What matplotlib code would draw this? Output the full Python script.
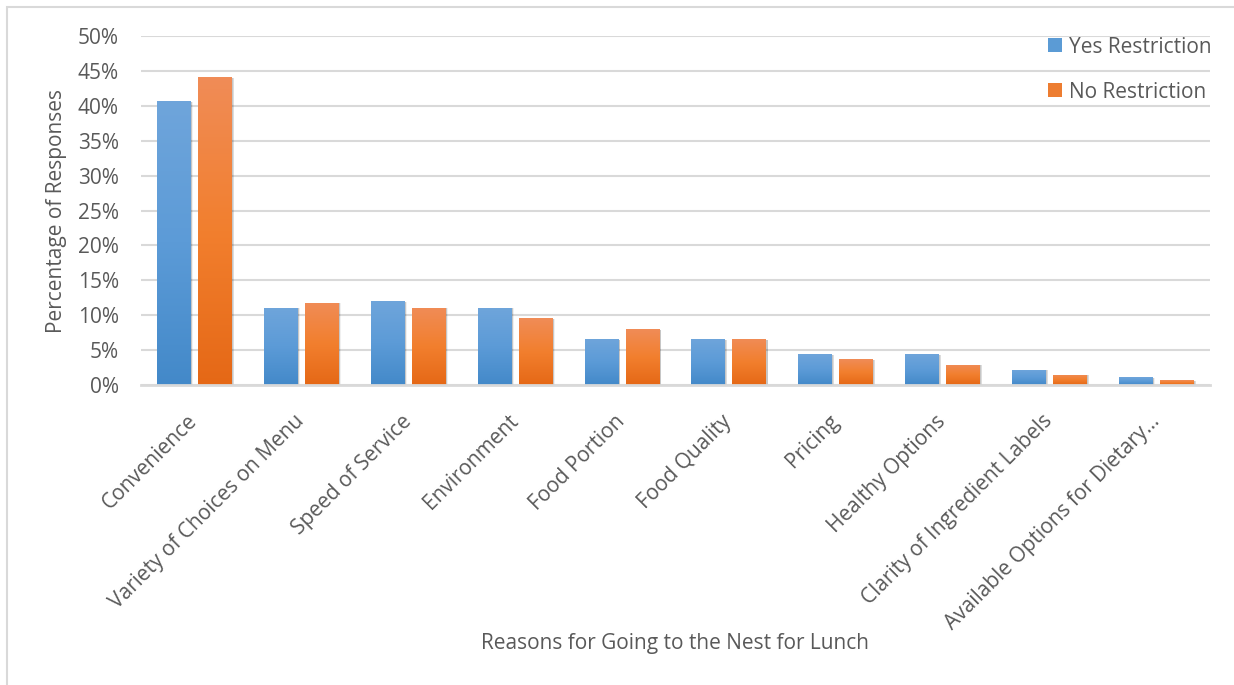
import numpy as np
import matplotlib
matplotlib.use("Agg")
import matplotlib.pyplot as plt
from matplotlib.colors import LinearSegmentedColormap
from matplotlib.patches import Rectangle
from matplotlib.ticker import FuncFormatter

# Data (percent of responses)
categories = [
    "Convenience",
    "Variety of Choices on Menu",
    "Speed of Service",
    "Environment",
    "Food Portion",
    "Food Quality",
    "Pricing",
    "Healthy Options",
    "Clarity of Ingredient Labels",
    "Available Options for Dietary…",
]
yes_restriction = [40.7, 11.1, 12.0, 11.1, 6.6, 6.6, 4.4, 4.4, 2.2, 1.1]
no_restriction = [44.1, 11.8, 11.1, 9.6, 8.0, 6.6, 3.7, 2.9, 1.5, 0.7]
series_names = ["Yes Restriction", "No Restriction"]

text_color = "#595959"
grid_color = "#d9d9d9"
blue_cmap = LinearSegmentedColormap.from_list("blue", ["#4389c9", "#5c9bd7", "#6fa5db"])
orange_cmap = LinearSegmentedColormap.from_list("orange", ["#e56816", "#f27f2e", "#f08c57"])
fs = 15

plt.rcParams["font.family"] = ["Open Sans", "DejaVu Sans"]

fig = plt.figure(figsize=(12.34, 6.85), dpi=100)
ax = fig.add_axes([0.1143, 0.438, 0.8662, 0.5094])

# light outer border like the exported chart area
fig.patches.append(Rectangle((7 / 1234, -0.05), 1.2, 1.05 - 7 / 685,
                             transform=fig.transFigure, fill=False,
                             edgecolor="#d9d9d9", linewidth=1.5))

x = np.arange(len(categories))
width = 0.318
offset = 0.192

grad = np.linspace(0, 1, 256).reshape(-1, 1)


def gradient_bars(positions, values, cmap):
    bars = ax.bar(positions, values, width, color="none", edgecolor="none", zorder=3)
    for bar in bars:
        x0 = bar.get_x()
        h = bar.get_height()
        # soft shadow
        for k, a in [(0.014, 0.06), (0.010, 0.08), (0.006, 0.10)]:
            ax.add_patch(Rectangle((x0 + 0.004, -0.2), width + k, h + 0.1,
                                   facecolor="black", alpha=a, edgecolor="none",
                                   zorder=2, clip_on=False))
        im = ax.imshow(grad, extent=(x0, x0 + width, 0, h), origin="lower",
                       aspect="auto", cmap=cmap, zorder=3)
        im.set_clip_path(bar)
    return bars


gradient_bars(x - offset, yes_restriction, blue_cmap)
gradient_bars(x + offset, no_restriction, orange_cmap)

ax.set_xlim(-0.5, len(categories) - 0.5)
ax.set_ylim(0, 50)
ax.set_yticks(np.arange(0, 51, 5))
ax.yaxis.set_major_formatter(FuncFormatter(lambda v, p: f"{v:.0f}%"))
ax.grid(axis="y", color=grid_color, linewidth=1.5, zorder=0)
ax.set_axisbelow(True)
for s in ["top", "right", "left"]:
    ax.spines[s].set_visible(False)
ax.spines["bottom"].set_color(grid_color)
ax.spines["bottom"].set_linewidth(2)
ax.spines["bottom"].set_zorder(4)

ax.set_xticks(x)
ax.set_xticklabels(categories, rotation=45, ha="right", va="center",
                   rotation_mode="anchor")
ax.tick_params(axis="x", length=0, pad=24, labelsize=fs, colors=text_color)
ax.tick_params(axis="y", length=0, pad=16, labelsize=fs, colors=text_color)

ax.set_ylabel("Percentage of Responses", fontsize=fs, color=text_color, labelpad=8)
fig.text(0.547, 0.06, "Reasons for Going to the Nest for Lunch", ha="center",
         va="center", fontsize=fs, color=text_color)

handles = [Rectangle((0, 0), 1, 1, facecolor="#5b9bd5"),
           Rectangle((0, 0), 1, 1, facecolor="#ed7d31")]
leg = ax.legend(handles, series_names, loc="upper right",
                bbox_to_anchor=(1.0095, 1.022), borderaxespad=0, frameon=False,
                fontsize=fs, handlelength=0.65, handleheight=0.65,
                handletextpad=0.35, labelspacing=1.15, labelcolor=text_color)

fig.savefig("out.png", dpi=100)
